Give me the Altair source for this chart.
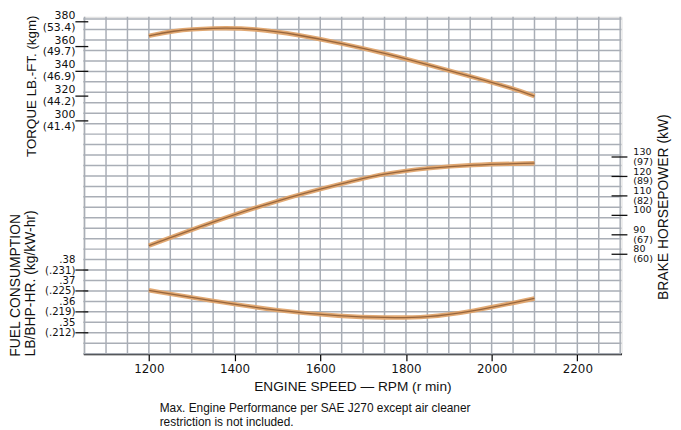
import altair as alt
import pandas as pd

# ---------------- data ----------------
rpm_ticks = [1200, 1400, 1600, 1800, 2000, 2200]

torque_rpm = [1200, 1250, 1350, 1450, 1550, 1650, 1750, 1850, 1950, 2050, 2100]
torque_lbft = [368.6, 372.6, 375.2, 374.6, 369.4, 362.6, 354.6, 345.4, 336.0, 326.2, 320.0]

power_rpm = [1200, 1350, 1500, 1650, 1750, 1850, 1950, 2100]
power_hp = [84.4, 96.7, 107.8, 116.3, 121.6, 124.3, 126.0, 126.8]

fuel_rpm = [1200, 1350, 1500, 1650, 1750, 1850, 1950, 2100]
fuel_lb = [0.3703, 0.3652, 0.3605, 0.3578, 0.3572, 0.3573, 0.3600, 0.3664]

torque_vals = [380, 360, 340, 320, 300]
torque_labels = ["380", "360", "340", "320", "300"]
torque_kgm = ["(53.4)", "(49.7)", "(46.9)", "(44.2)", "(41.4)"]

power_vals = [130, 120, 110, 100, 90, 80]
power_labels = ["130", "120", "110", "100", "90", "80"]
power_kw = ["(97)", "(89)", "(82)", "", "(67)", "(60)"]

fuel_vals = [0.38, 0.37, 0.36, 0.35]
fuel_labels = [".38", ".37", ".36", ".35"]
fuel_kg = ["(.231)", "(.225)", "(.219)", "(.212)"]

grid_rpm = list(range(1050, 2301, 50))
grid_fuel = [round(0.34 + 0.005 * i, 3) for i in range(33)]

# ---------------- styling ----------------
FONT = "Liberation Sans"
LFONT = "DejaVu Sans"
INK = "#111111"
GRID = "#a9aeb6"
CURVE_W = "#e0a46c"
CURVE_D = "#84552f"

X = alt.Scale(domain=[1047, 2303], nice=False, zero=False)
yT = alt.Scale(domain=[112, 384], nice=False, zero=False)
yP = alt.Scale(domain=[28.84, 202.05], nice=False, zero=False)
yF = alt.Scale(domain=[0.33995, 0.50109], nice=False, zero=False)

x_axis = alt.Axis(values=rpm_ticks, format="d", title="ENGINE SPEED \u2014 RPM (r min)", grid=False,
                  domainColor="black", domainWidth=2, tickColor="black", tickSize=7, tickWidth=1.2,
                  labelFont=LFONT, labelFontSize=12, labelColor=INK, labelPadding=3, labelFlush=False,
                  titleFont=FONT, titleFontSize=13.8, titleFontWeight="normal", titleColor=INK, titlePadding=5)


def xq():
    return alt.X("rpm:Q", scale=X, axis=x_axis)


def curve(df, yscale, axis=None):
    if axis is not None:
        yenc = alt.Y("v:Q", scale=yscale, axis=axis)
    else:
        yenc = alt.Y("v:Q", scale=yscale, axis=None)
    wide = alt.Chart(df).mark_line(color=CURVE_W, strokeWidth=4.5, interpolate="basis", opacity=0.95).encode(x=xq(), y=yenc)
    thin = alt.Chart(df).mark_line(color=CURVE_D, strokeWidth=1.3, interpolate="basis", opacity=0.8).encode(
        x=xq(), y=alt.Y("v:Q", scale=yscale, axis=None))
    return [wide, thin]


def labels(vals, nums, subs, yscale, xpos, align, dy1, dy2, tick_x, tick_x2, size):
    df = pd.DataFrame({"v": vals, "num": nums, "sub": subs})
    base = alt.Chart(df)
    y = alt.Y("v:Q", scale=yscale, axis=None)
    t1 = base.mark_text(align=align, baseline="middle", dy=dy1, font=LFONT, fontSize=size, color=INK).encode(
        y=y, x=alt.value(xpos), text="num:N")
    t2 = base.mark_text(align=align, baseline="middle", dy=dy2, font=LFONT, fontSize=size, color=INK).encode(
        y=y, x=alt.value(xpos), text="sub:N")
    tk = base.mark_rule(color=INK, strokeWidth=1.3).encode(y=y, x=alt.value(tick_x), x2=alt.value(tick_x2))
    return [t1, t2, tk]


# ---------------- grid + fuel group ----------------
vgrid = alt.Chart(pd.DataFrame({"rpm": grid_rpm})).mark_rule(color=GRID, strokeWidth=1.5).encode(x=xq())
hgrid = alt.Chart(pd.DataFrame({"v": grid_fuel})).mark_rule(color=GRID, strokeWidth=1.5).encode(
    y=alt.Y("v:Q", scale=yF, axis=alt.Axis(orient="left", labels=False, ticks=False, grid=False, title="",
                                           domainColor="black", domainWidth=2)))

fuel_df = pd.DataFrame({"rpm": fuel_rpm, "v": fuel_lb})
fuel_group = alt.layer(
    vgrid, hgrid,
    *curve(fuel_df, yF),
    *labels(fuel_vals, fuel_labels, fuel_kg, yF, -8, "right", -10, 0.5, -8, 5, 10.2),
)

# ---------------- torque group ----------------
torque_df = pd.DataFrame({"rpm": torque_rpm, "v": torque_lbft})
torque_group = alt.layer(
    *curve(torque_df, yT),
    *labels(torque_vals, torque_labels, torque_kgm, yT, -8, "right", -6, 6, -8, 5, 11),
)

# ---------------- power group ----------------
power_df = pd.DataFrame({"rpm": power_rpm, "v": power_hp})
power_axis = alt.Axis(orient="right", labels=False, ticks=False, grid=False, title="",
                      domainColor="black", domainWidth=1.5)
power_group = alt.layer(
    *curve(power_df, yP, power_axis),
    *labels(power_vals, power_labels, power_kw, yP, 555, "left", -4.9, 4.9, 533, 549, 9.6),
)


# ---------------- free texts ----------------
def txt(s, x, y, angle=0, align="center", size=13.5):
    kw = dict(text=s, font=FONT, fontSize=size, color=INK, align=align, baseline="middle")
    if angle:
        kw["angle"] = angle
    return alt.Chart(pd.DataFrame({"a": [0]})).mark_text(**kw).encode(x=alt.value(x), y=alt.value(y))


texts = alt.layer(
    txt("TORQUE LB.-FT. (kgm)", -52, 70, 270),
    txt("FUEL CONSUMPTION", -68, 271, 270, size=14),
    txt("LB/BHP-HR. (kg/kW-hr)", -53, 269, 270, size=14),
    txt("BRAKE HORSEPOWER (kW)", 586, 192, 270, size=14),
    txt("Max. Engine Performance per SAE J270 except air cleaner", 77, 394.5, 0, "left", 12),
    txt("restriction is not included.", 77, 409, 0, "left", 12),
)

chart = alt.layer(fuel_group, torque_group, power_group, texts).resolve_scale(y="independent").properties(
    width=543, height=340,
    autosize=alt.AutoSizeParams(type="none"),
    padding={"left": 76, "top": 7, "right": 52, "bottom": 76},
).configure_view(fill="#eceef1", stroke=None).configure(background="white")

chart.save("out.html", embed_options={"renderer": "svg", "actions": False})
